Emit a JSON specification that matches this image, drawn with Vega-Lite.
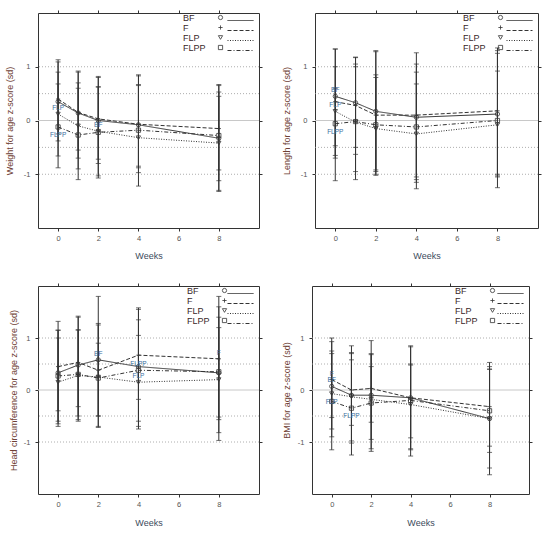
{
  "$schema": "https://vega.github.io/schema/vega-lite/v6.json",
  "description": "Anthropometric z-scores by week and feeding group",
  "padding": {"left": 4, "top": 9, "right": 4, "bottom": 4},
  "datasets": {
    "d": [
      {"p": "W", "w": 0, "g": "BF", "m": 0.35, "lo": -0.38, "hi": 1.09},
      {"p": "W", "w": 0, "g": "F", "m": 0.40, "lo": -0.25, "hi": 1.13},
      {"p": "W", "w": 0, "g": "FLP", "m": 0.12, "lo": -0.66, "hi": 0.90, "note": "FLP"},
      {"p": "W", "w": 0, "g": "FLPP", "m": -0.12, "lo": -0.88, "hi": 0.68, "note": "FLPP"},
      {"p": "W", "w": 1, "g": "BF", "m": 0.14, "lo": -0.70, "hi": 0.92},
      {"p": "W", "w": 1, "g": "F", "m": 0.15, "lo": -0.55, "hi": 0.90},
      {"p": "W", "w": 1, "g": "FLP", "m": -0.10, "lo": -1.10, "hi": 0.70},
      {"p": "W", "w": 1, "g": "FLPP", "m": -0.27, "lo": -0.90, "hi": 0.60},
      {"p": "W", "w": 2, "g": "BF", "m": 0.00, "lo": -1.07, "hi": 0.82},
      {"p": "W", "w": 2, "g": "F", "m": 0.03, "lo": -0.80, "hi": 0.80},
      {"p": "W", "w": 2, "g": "FLP", "m": -0.20, "lo": -1.03, "hi": 0.63, "note": "BF"},
      {"p": "W", "w": 2, "g": "FLPP", "m": -0.22, "lo": -0.72, "hi": 0.62},
      {"p": "W", "w": 4, "g": "BF", "m": -0.08, "lo": -1.22, "hi": 0.85},
      {"p": "W", "w": 4, "g": "F", "m": -0.07, "lo": -0.97, "hi": 0.83},
      {"p": "W", "w": 4, "g": "FLP", "m": -0.32, "lo": -0.88, "hi": 0.67},
      {"p": "W", "w": 4, "g": "FLPP", "m": -0.18, "lo": -0.85, "hi": 0.65},
      {"p": "W", "w": 8, "g": "BF", "m": -0.33, "lo": -1.32, "hi": 0.67},
      {"p": "W", "w": 8, "g": "F", "m": -0.15, "lo": -1.12, "hi": 0.53},
      {"p": "W", "w": 8, "g": "FLP", "m": -0.42, "lo": -1.30, "hi": 0.45},
      {"p": "W", "w": 8, "g": "FLPP", "m": -0.28, "lo": -0.92, "hi": 0.65},

      {"p": "L", "w": 0, "g": "BF", "m": 0.45, "lo": -0.47, "hi": 1.33, "note": "BF"},
      {"p": "L", "w": 0, "g": "F", "m": 0.35, "lo": -0.65, "hi": 1.33},
      {"p": "L", "w": 0, "g": "FLP", "m": 0.17, "lo": -1.12, "hi": 1.00, "note": "FLP"},
      {"p": "L", "w": 0, "g": "FLPP", "m": -0.06, "lo": -0.70, "hi": 0.60, "note": "FLPP"},
      {"p": "L", "w": 1, "g": "BF", "m": 0.33, "lo": -0.50, "hi": 1.18},
      {"p": "L", "w": 1, "g": "F", "m": 0.28, "lo": -0.63, "hi": 1.17},
      {"p": "L", "w": 1, "g": "FLP", "m": -0.03, "lo": -1.10, "hi": 1.05},
      {"p": "L", "w": 1, "g": "FLPP", "m": -0.02, "lo": -0.95, "hi": 1.00},
      {"p": "L", "w": 2, "g": "BF", "m": 0.17, "lo": -0.95, "hi": 1.30},
      {"p": "L", "w": 2, "g": "F", "m": 0.10, "lo": -0.92, "hi": 1.28},
      {"p": "L", "w": 2, "g": "FLP", "m": -0.15, "lo": -1.02, "hi": 0.85},
      {"p": "L", "w": 2, "g": "FLPP", "m": -0.08, "lo": -1.00, "hi": 0.80},
      {"p": "L", "w": 4, "g": "BF", "m": 0.06, "lo": -1.05, "hi": 1.26},
      {"p": "L", "w": 4, "g": "F", "m": 0.10, "lo": -1.10, "hi": 1.05},
      {"p": "L", "w": 4, "g": "FLP", "m": -0.25, "lo": -1.27, "hi": 0.68},
      {"p": "L", "w": 4, "g": "FLPP", "m": -0.12, "lo": -1.15, "hi": 0.90},
      {"p": "L", "w": 8, "g": "BF", "m": 0.12, "lo": -1.03, "hi": 1.35},
      {"p": "L", "w": 8, "g": "F", "m": 0.18, "lo": -1.00, "hi": 1.30},
      {"p": "L", "w": 8, "g": "FLP", "m": -0.08, "lo": -1.25, "hi": 0.92},
      {"p": "L", "w": 8, "g": "FLPP", "m": 0.00, "lo": -1.05, "hi": 1.25},

      {"p": "H", "w": 0, "g": "BF", "m": 0.33, "lo": -0.65, "hi": 1.32},
      {"p": "H", "w": 0, "g": "F", "m": 0.45, "lo": -0.40, "hi": 1.15},
      {"p": "H", "w": 0, "g": "FLP", "m": 0.15, "lo": -0.70, "hi": 1.00},
      {"p": "H", "w": 0, "g": "FLPP", "m": 0.27, "lo": -0.60, "hi": 1.15},
      {"p": "H", "w": 1, "g": "BF", "m": 0.48, "lo": -0.57, "hi": 1.42},
      {"p": "H", "w": 1, "g": "F", "m": 0.53, "lo": -0.32, "hi": 1.40},
      {"p": "H", "w": 1, "g": "FLP", "m": 0.28, "lo": -0.60, "hi": 1.16},
      {"p": "H", "w": 1, "g": "FLPP", "m": 0.30, "lo": -0.50, "hi": 1.15},
      {"p": "H", "w": 2, "g": "BF", "m": 0.58, "lo": -0.72, "hi": 1.80, "note": "BF"},
      {"p": "H", "w": 2, "g": "F", "m": 0.38, "lo": -0.50, "hi": 1.28},
      {"p": "H", "w": 2, "g": "FLP", "m": 0.25, "lo": -0.70, "hi": 1.25},
      {"p": "H", "w": 2, "g": "FLPP", "m": 0.23, "lo": -0.50, "hi": 0.90},
      {"p": "H", "w": 4, "g": "BF", "m": 0.45, "lo": -0.70, "hi": 1.58},
      {"p": "H", "w": 4, "g": "F", "m": 0.67, "lo": -0.18, "hi": 1.55},
      {"p": "H", "w": 4, "g": "FLP", "m": 0.15, "lo": -0.75, "hi": 1.05, "note": "FLP"},
      {"p": "H", "w": 4, "g": "FLPP", "m": 0.38, "lo": -0.60, "hi": 1.35, "note": "FLPP"},
      {"p": "H", "w": 8, "g": "BF", "m": 0.33, "lo": -0.57, "hi": 1.80},
      {"p": "H", "w": 8, "g": "F", "m": 0.60, "lo": -0.52, "hi": 1.60, "note": "F"},
      {"p": "H", "w": 8, "g": "FLP", "m": 0.20, "lo": -0.97, "hi": 1.40},
      {"p": "H", "w": 8, "g": "FLPP", "m": 0.35, "lo": -0.82, "hi": 1.20},

      {"p": "B", "w": 0, "g": "BF", "m": 0.07, "lo": -0.90, "hi": 1.00, "note": "BF"},
      {"p": "B", "w": 0, "g": "F", "m": 0.20, "lo": -0.53, "hi": 0.93, "note": "F"},
      {"p": "B", "w": 0, "g": "FLP", "m": -0.07, "lo": -1.15, "hi": 0.75, "note": "FLP"},
      {"p": "B", "w": 0, "g": "FLPP", "m": -0.22, "lo": -0.75, "hi": 0.70},
      {"p": "B", "w": 1, "g": "BF", "m": -0.10, "lo": -1.02, "hi": 0.85},
      {"p": "B", "w": 1, "g": "F", "m": 0.00, "lo": -0.68, "hi": 0.72},
      {"p": "B", "w": 1, "g": "FLP", "m": -0.13, "lo": -1.25, "hi": 0.70},
      {"p": "B", "w": 1, "g": "FLPP", "m": -0.35, "lo": -0.98, "hi": 0.58, "note": "FLPP"},
      {"p": "B", "w": 2, "g": "BF", "m": -0.10, "lo": -1.13, "hi": 0.95},
      {"p": "B", "w": 2, "g": "F", "m": 0.03, "lo": -0.62, "hi": 0.70},
      {"p": "B", "w": 2, "g": "FLP", "m": -0.18, "lo": -1.18, "hi": 0.68},
      {"p": "B", "w": 2, "g": "FLPP", "m": -0.25, "lo": -0.95, "hi": 0.45},
      {"p": "B", "w": 4, "g": "BF", "m": -0.15, "lo": -1.15, "hi": 0.85},
      {"p": "B", "w": 4, "g": "F", "m": -0.15, "lo": -1.13, "hi": 0.83},
      {"p": "B", "w": 4, "g": "FLP", "m": -0.28, "lo": -1.27, "hi": 0.48},
      {"p": "B", "w": 4, "g": "FLPP", "m": -0.20, "lo": -0.92, "hi": 0.50},
      {"p": "B", "w": 8, "g": "BF", "m": -0.55, "lo": -1.63, "hi": 0.53},
      {"p": "B", "w": 8, "g": "F", "m": -0.32, "lo": -1.08, "hi": 0.45},
      {"p": "B", "w": 8, "g": "FLP", "m": -0.55, "lo": -1.50, "hi": 0.40},
      {"p": "B", "w": 8, "g": "FLPP", "m": -0.40, "lo": -1.20, "hi": 0.40}
    ],
    "grid": [{"gy": -1}, {"gy": -0.5}, {"gy": 0.5}, {"gy": 1}],
    "zero": [{"gy": 0}]
  },
  "columns": 2,
  "align": "none",
  "spacing": {"column": 18, "row": 21},
  "resolve": {"legend": {"shape": "independent", "strokeDash": "independent"}},
  "concat": [
    {
      "width": 221, "height": 215,
      "data": {"name": "d"},
      "transform": [{"filter": "datum.p === 'W'"}],
      "resolve": {"axis": {"x": "independent", "y": "independent"}},
      "layer": [
        {"data": {"name": "grid"}, "mark": {"type": "rule", "color": "#999", "strokeDash": [1, 2], "strokeWidth": 0.8},
         "encoding": {"y": {"field": "gy", "type": "quantitative", "scale": {"domain": [-2, 2], "nice": false}, "axis": null}}},
        {"data": {"name": "zero"}, "mark": {"type": "rule", "color": "#c8c8c8", "strokeWidth": 1},
         "encoding": {"y": {"field": "gy", "type": "quantitative", "scale": {"domain": [-2, 2], "nice": false}, "axis": null}}},
        {"mark": {"type": "rule", "color": "#333", "strokeWidth": 1},
         "encoding": {
           "x": {"field": "w", "type": "quantitative", "scale": {"domain": [-1, 10], "nice": false, "zero": false},
                 "axis": {"orient": "bottom", "values": [0, 2, 4, 6, 8], "title": "Weeks", "labelPadding": 3, "titlePadding": 10}},
           "y": {"field": "lo", "type": "quantitative", "scale": {"domain": [-2, 2], "nice": false},
                 "axis": {"orient": "left", "values": [-1, 0, 1], "labelExpr": "'' + datum.value", "title": "Weight for age z-score (sd)", "labelPadding": 5, "titlePadding": 9}},
           "y2": {"field": "hi"}}},
        {"mark": {"type": "tick", "orient": "horizontal", "color": "#333", "size": 5, "thickness": 1},
         "encoding": {
           "x": {"field": "w", "type": "quantitative", "scale": {"domain": [-1, 10], "nice": false, "zero": false},
                 "axis": {"orient": "top", "values": [0, 2, 4, 6, 8], "labels": false, "title": null}},
           "y": {"field": "lo", "type": "quantitative", "scale": {"domain": [-2, 2], "nice": false},
                 "axis": {"orient": "right", "values": [-1, 0, 1], "labels": false, "title": null}}}},
        {"mark": {"type": "tick", "orient": "horizontal", "color": "#333", "size": 5, "thickness": 1},
         "encoding": {
           "x": {"field": "w", "type": "quantitative", "scale": {"domain": [-1, 10], "nice": false, "zero": false}, "axis": null},
           "y": {"field": "hi", "type": "quantitative", "scale": {"domain": [-2, 2], "nice": false}, "axis": null}}},
        {"mark": {"type": "line", "color": "#333", "strokeWidth": 1},
         "encoding": {
           "x": {"field": "w", "type": "quantitative", "scale": {"domain": [-1, 10], "nice": false, "zero": false}, "axis": null},
           "y": {"field": "m", "type": "quantitative", "scale": {"domain": [-2, 2], "nice": false}, "axis": null},
           "strokeDash": {"field": "g", "type": "nominal",
             "scale": {"domain": ["BF", "F", "FLP", "FLPP"], "range": [[1, 0], [4, 2], [1, 1.5], [4, 2, 1, 2]]},
             "legend": {"orient": "top-right", "offset": 3, "padding": 0, "title": null, "labelExpr": "' '", "labelFontSize": 9, "labelOffset": 0,
                        "symbolType": "M-6.5,0L6.5,0", "symbolSize": 16, "symbolStrokeColor": "#333", "symbolStrokeWidth": 1, "rowPadding": -1}}}},
        {"mark": {"type": "point", "color": "#333", "filled": false, "size": 18, "strokeWidth": 0.8, "opacity": 1},
         "encoding": {
           "x": {"field": "w", "type": "quantitative", "scale": {"domain": [-1, 10], "nice": false, "zero": false}, "axis": null},
           "y": {"field": "m", "type": "quantitative", "scale": {"domain": [-2, 2], "nice": false}, "axis": null},
           "shape": {"field": "g", "type": "nominal",
             "scale": {"domain": ["BF", "F", "FLP", "FLPP"], "range": ["circle", "M-1,0L1,0M0,-1L0,1", "triangle-down", "square"]},
             "legend": {"orient": "none", "legendX": 178, "legendY": 0, "padding": 0, "title": null, "labelAlign": "left", "labelOffset": -42, "labelFontSize": 9, "labelColor": "#3a2828",
                        "symbolSize": 18, "symbolStrokeColor": "#333", "symbolStrokeWidth": 0.8, "rowPadding": -1}}}},
        {"transform": [{"filter": "datum.note && datum.g !== 'FLPP'"}],
         "mark": {"type": "text", "fontSize": 6.5, "color": "#3a6e9e", "dy": -6},
         "encoding": {
           "x": {"field": "w", "type": "quantitative", "scale": {"domain": [-1, 10], "nice": false, "zero": false}, "axis": null},
           "y": {"field": "m", "type": "quantitative", "scale": {"domain": [-2, 2], "nice": false}, "axis": null},
           "text": {"field": "note"}}},
        {"transform": [{"filter": "datum.note && datum.g === 'FLPP'"}],
         "mark": {"type": "text", "fontSize": 6.5, "color": "#3a6e9e", "dy": 8},
         "encoding": {
           "x": {"field": "w", "type": "quantitative", "scale": {"domain": [-1, 10], "nice": false, "zero": false}, "axis": null},
           "y": {"field": "m", "type": "quantitative", "scale": {"domain": [-2, 2], "nice": false}, "axis": null},
           "text": {"field": "note"}}}
      ]
    },
    {
      "width": 223, "height": 215,
      "data": {"name": "d"},
      "transform": [{"filter": "datum.p === 'L'"}],
      "resolve": {"axis": {"x": "independent", "y": "independent"}},
      "layer": [
        {"data": {"name": "grid"}, "mark": {"type": "rule", "color": "#999", "strokeDash": [1, 2], "strokeWidth": 0.8},
         "encoding": {"y": {"field": "gy", "type": "quantitative", "scale": {"domain": [-2, 2], "nice": false}, "axis": null}}},
        {"data": {"name": "zero"}, "mark": {"type": "rule", "color": "#c8c8c8", "strokeWidth": 1},
         "encoding": {"y": {"field": "gy", "type": "quantitative", "scale": {"domain": [-2, 2], "nice": false}, "axis": null}}},
        {"mark": {"type": "rule", "color": "#333", "strokeWidth": 1},
         "encoding": {
           "x": {"field": "w", "type": "quantitative", "scale": {"domain": [-1, 10], "nice": false, "zero": false},
                 "axis": {"orient": "bottom", "values": [0, 2, 4, 6, 8], "title": "Weeks", "labelPadding": 3, "titlePadding": 10}},
           "y": {"field": "lo", "type": "quantitative", "scale": {"domain": [-2, 2], "nice": false},
                 "axis": {"orient": "left", "values": [-1, 0, 1], "labelExpr": "'' + datum.value", "title": "Length for age z-score (sd)", "labelPadding": 5, "titlePadding": 9}},
           "y2": {"field": "hi"}}},
        {"mark": {"type": "tick", "orient": "horizontal", "color": "#333", "size": 5, "thickness": 1},
         "encoding": {
           "x": {"field": "w", "type": "quantitative", "scale": {"domain": [-1, 10], "nice": false, "zero": false},
                 "axis": {"orient": "top", "values": [0, 2, 4, 6, 8], "labels": false, "title": null}},
           "y": {"field": "lo", "type": "quantitative", "scale": {"domain": [-2, 2], "nice": false},
                 "axis": {"orient": "right", "values": [-1, 0, 1], "labels": false, "title": null}}}},
        {"mark": {"type": "tick", "orient": "horizontal", "color": "#333", "size": 5, "thickness": 1},
         "encoding": {
           "x": {"field": "w", "type": "quantitative", "scale": {"domain": [-1, 10], "nice": false, "zero": false}, "axis": null},
           "y": {"field": "hi", "type": "quantitative", "scale": {"domain": [-2, 2], "nice": false}, "axis": null}}},
        {"mark": {"type": "line", "color": "#333", "strokeWidth": 1},
         "encoding": {
           "x": {"field": "w", "type": "quantitative", "scale": {"domain": [-1, 10], "nice": false, "zero": false}, "axis": null},
           "y": {"field": "m", "type": "quantitative", "scale": {"domain": [-2, 2], "nice": false}, "axis": null},
           "strokeDash": {"field": "g", "type": "nominal",
             "scale": {"domain": ["BF", "F", "FLP", "FLPP"], "range": [[1, 0], [4, 2], [1, 1.5], [4, 2, 1, 2]]},
             "legend": {"orient": "top-right", "offset": 3, "padding": 0, "title": null, "labelExpr": "' '", "labelFontSize": 9, "labelOffset": 0,
                        "symbolType": "M-6.5,0L6.5,0", "symbolSize": 16, "symbolStrokeColor": "#333", "symbolStrokeWidth": 1, "rowPadding": -1}}}},
        {"mark": {"type": "point", "color": "#333", "filled": false, "size": 18, "strokeWidth": 0.8, "opacity": 1},
         "encoding": {
           "x": {"field": "w", "type": "quantitative", "scale": {"domain": [-1, 10], "nice": false, "zero": false}, "axis": null},
           "y": {"field": "m", "type": "quantitative", "scale": {"domain": [-2, 2], "nice": false}, "axis": null},
           "shape": {"field": "g", "type": "nominal",
             "scale": {"domain": ["BF", "F", "FLP", "FLPP"], "range": ["circle", "M-1,0L1,0M0,-1L0,1", "triangle-down", "square"]},
             "legend": {"orient": "none", "legendX": 181, "legendY": 0, "padding": 0, "title": null, "labelAlign": "left", "labelOffset": -42, "labelFontSize": 9, "labelColor": "#3a2828",
                        "symbolSize": 18, "symbolStrokeColor": "#333", "symbolStrokeWidth": 0.8, "rowPadding": -1}}}},
        {"transform": [{"filter": "datum.note && datum.g !== 'FLPP'"}],
         "mark": {"type": "text", "fontSize": 6.5, "color": "#3a6e9e", "dy": -6},
         "encoding": {
           "x": {"field": "w", "type": "quantitative", "scale": {"domain": [-1, 10], "nice": false, "zero": false}, "axis": null},
           "y": {"field": "m", "type": "quantitative", "scale": {"domain": [-2, 2], "nice": false}, "axis": null},
           "text": {"field": "note"}}},
        {"transform": [{"filter": "datum.note && datum.g === 'FLPP'"}],
         "mark": {"type": "text", "fontSize": 6.5, "color": "#3a6e9e", "dy": 8},
         "encoding": {
           "x": {"field": "w", "type": "quantitative", "scale": {"domain": [-1, 10], "nice": false, "zero": false}, "axis": null},
           "y": {"field": "m", "type": "quantitative", "scale": {"domain": [-2, 2], "nice": false}, "axis": null},
           "text": {"field": "note"}}}
      ]
    },
    {
      "width": 221, "height": 208,
      "data": {"name": "d"},
      "transform": [{"filter": "datum.p === 'H'"}],
      "resolve": {"axis": {"x": "independent", "y": "independent"}},
      "layer": [
        {"data": {"name": "grid"}, "mark": {"type": "rule", "color": "#999", "strokeDash": [1, 2], "strokeWidth": 0.8},
         "encoding": {"y": {"field": "gy", "type": "quantitative", "scale": {"domain": [-2, 2], "nice": false}, "axis": null}}},
        {"data": {"name": "zero"}, "mark": {"type": "rule", "color": "#c8c8c8", "strokeWidth": 1},
         "encoding": {"y": {"field": "gy", "type": "quantitative", "scale": {"domain": [-2, 2], "nice": false}, "axis": null}}},
        {"mark": {"type": "rule", "color": "#333", "strokeWidth": 1},
         "encoding": {
           "x": {"field": "w", "type": "quantitative", "scale": {"domain": [-1, 10], "nice": false, "zero": false},
                 "axis": {"orient": "bottom", "values": [0, 2, 4, 6, 8], "title": "Weeks", "labelPadding": 3, "titlePadding": 11}},
           "y": {"field": "lo", "type": "quantitative", "scale": {"domain": [-2, 2], "nice": false},
                 "axis": {"orient": "left", "values": [-1, 0, 1], "labelExpr": "'' + datum.value", "title": "Head circumference for age z-score (sd)", "labelPadding": 5, "titlePadding": 5}},
           "y2": {"field": "hi"}}},
        {"mark": {"type": "tick", "orient": "horizontal", "color": "#333", "size": 5, "thickness": 1},
         "encoding": {
           "x": {"field": "w", "type": "quantitative", "scale": {"domain": [-1, 10], "nice": false, "zero": false},
                 "axis": {"orient": "top", "values": [0, 2, 4, 6, 8], "labels": false, "title": null}},
           "y": {"field": "lo", "type": "quantitative", "scale": {"domain": [-2, 2], "nice": false},
                 "axis": {"orient": "right", "values": [-1, 0, 1], "labels": false, "title": null}}}},
        {"mark": {"type": "tick", "orient": "horizontal", "color": "#333", "size": 5, "thickness": 1},
         "encoding": {
           "x": {"field": "w", "type": "quantitative", "scale": {"domain": [-1, 10], "nice": false, "zero": false}, "axis": null},
           "y": {"field": "hi", "type": "quantitative", "scale": {"domain": [-2, 2], "nice": false}, "axis": null}}},
        {"mark": {"type": "line", "color": "#333", "strokeWidth": 1},
         "encoding": {
           "x": {"field": "w", "type": "quantitative", "scale": {"domain": [-1, 10], "nice": false, "zero": false}, "axis": null},
           "y": {"field": "m", "type": "quantitative", "scale": {"domain": [-2, 2], "nice": false}, "axis": null},
           "strokeDash": {"field": "g", "type": "nominal",
             "scale": {"domain": ["BF", "F", "FLP", "FLPP"], "range": [[1, 0], [4, 2], [1, 1.5], [4, 2, 1, 2]]},
             "legend": {"orient": "top-right", "offset": 3, "padding": 0, "title": null, "labelExpr": "' '", "labelFontSize": 9, "labelOffset": 0,
                        "symbolType": "M-6.5,0L6.5,0", "symbolSize": 16, "symbolStrokeColor": "#333", "symbolStrokeWidth": 1, "rowPadding": -1}}}},
        {"mark": {"type": "point", "color": "#333", "filled": false, "size": 18, "strokeWidth": 0.8, "opacity": 1},
         "encoding": {
           "x": {"field": "w", "type": "quantitative", "scale": {"domain": [-1, 10], "nice": false, "zero": false}, "axis": null},
           "y": {"field": "m", "type": "quantitative", "scale": {"domain": [-2, 2], "nice": false}, "axis": null},
           "shape": {"field": "g", "type": "nominal",
             "scale": {"domain": ["BF", "F", "FLP", "FLPP"], "range": ["circle", "M-1,0L1,0M0,-1L0,1", "triangle-down", "square"]},
             "legend": {"orient": "none", "legendX": 182, "legendY": 0, "padding": 0, "title": null, "labelAlign": "left", "labelOffset": -42, "labelFontSize": 9, "labelColor": "#3a2828",
                        "symbolSize": 18, "symbolStrokeColor": "#333", "symbolStrokeWidth": 0.8, "rowPadding": -1}}}},
        {"transform": [{"filter": "datum.note"}],
         "mark": {"type": "text", "fontSize": 6.5, "color": "#3a6e9e", "dy": -6},
         "encoding": {
           "x": {"field": "w", "type": "quantitative", "scale": {"domain": [-1, 10], "nice": false, "zero": false}, "axis": null},
           "y": {"field": "m", "type": "quantitative", "scale": {"domain": [-2, 2], "nice": false}, "axis": null},
           "text": {"field": "note"}}}
      ]
    },
    {
      "width": 217, "height": 208,
      "data": {"name": "d"},
      "transform": [{"filter": "datum.p === 'B'"}],
      "resolve": {"axis": {"x": "independent", "y": "independent"}},
      "layer": [
        {"data": {"name": "grid"}, "mark": {"type": "rule", "color": "#999", "strokeDash": [1, 2], "strokeWidth": 0.8},
         "encoding": {"y": {"field": "gy", "type": "quantitative", "scale": {"domain": [-2, 2], "nice": false}, "axis": null}}},
        {"data": {"name": "zero"}, "mark": {"type": "rule", "color": "#c8c8c8", "strokeWidth": 1},
         "encoding": {"y": {"field": "gy", "type": "quantitative", "scale": {"domain": [-2, 2], "nice": false}, "axis": null}}},
        {"mark": {"type": "rule", "color": "#333", "strokeWidth": 1},
         "encoding": {
           "x": {"field": "w", "type": "quantitative", "scale": {"domain": [-1, 10], "nice": false, "zero": false},
                 "axis": {"orient": "bottom", "values": [0, 2, 4, 6, 8], "title": "Weeks", "labelPadding": 3, "titlePadding": 11}},
           "y": {"field": "lo", "type": "quantitative", "scale": {"domain": [-2, 2], "nice": false},
                 "axis": {"orient": "left", "values": [-1, 0, 1], "labelExpr": "'' + datum.value", "title": "BMI for age z-score (sd)", "labelPadding": 5, "titlePadding": 6}},
           "y2": {"field": "hi"}}},
        {"mark": {"type": "tick", "orient": "horizontal", "color": "#333", "size": 5, "thickness": 1},
         "encoding": {
           "x": {"field": "w", "type": "quantitative", "scale": {"domain": [-1, 10], "nice": false, "zero": false},
                 "axis": {"orient": "top", "values": [0, 2, 4, 6, 8], "labels": false, "title": null}},
           "y": {"field": "lo", "type": "quantitative", "scale": {"domain": [-2, 2], "nice": false},
                 "axis": {"orient": "right", "values": [-1, 0, 1], "labels": false, "title": null}}}},
        {"mark": {"type": "tick", "orient": "horizontal", "color": "#333", "size": 5, "thickness": 1},
         "encoding": {
           "x": {"field": "w", "type": "quantitative", "scale": {"domain": [-1, 10], "nice": false, "zero": false}, "axis": null},
           "y": {"field": "hi", "type": "quantitative", "scale": {"domain": [-2, 2], "nice": false}, "axis": null}}},
        {"mark": {"type": "line", "color": "#333", "strokeWidth": 1},
         "encoding": {
           "x": {"field": "w", "type": "quantitative", "scale": {"domain": [-1, 10], "nice": false, "zero": false}, "axis": null},
           "y": {"field": "m", "type": "quantitative", "scale": {"domain": [-2, 2], "nice": false}, "axis": null},
           "strokeDash": {"field": "g", "type": "nominal",
             "scale": {"domain": ["BF", "F", "FLP", "FLPP"], "range": [[1, 0], [4, 2], [1, 1.5], [4, 2, 1, 2]]},
             "legend": {"orient": "top-right", "offset": 3, "padding": 0, "title": null, "labelExpr": "' '", "labelFontSize": 9, "labelOffset": 0,
                        "symbolType": "M-6.5,0L6.5,0", "symbolSize": 16, "symbolStrokeColor": "#333", "symbolStrokeWidth": 1, "rowPadding": -1}}}},
        {"mark": {"type": "point", "color": "#333", "filled": false, "size": 18, "strokeWidth": 0.8, "opacity": 1},
         "encoding": {
           "x": {"field": "w", "type": "quantitative", "scale": {"domain": [-1, 10], "nice": false, "zero": false}, "axis": null},
           "y": {"field": "m", "type": "quantitative", "scale": {"domain": [-2, 2], "nice": false}, "axis": null},
           "shape": {"field": "g", "type": "nominal",
             "scale": {"domain": ["BF", "F", "FLP", "FLPP"], "range": ["circle", "M-1,0L1,0M0,-1L0,1", "triangle-down", "square"]},
             "legend": {"orient": "none", "legendX": 176, "legendY": 0, "padding": 0, "title": null, "labelAlign": "left", "labelOffset": -42, "labelFontSize": 9, "labelColor": "#3a2828",
                        "symbolSize": 18, "symbolStrokeColor": "#333", "symbolStrokeWidth": 0.8, "rowPadding": -1}}}},
        {"transform": [{"filter": "datum.note && datum.g !== 'FLP' && datum.g !== 'FLPP'"}],
         "mark": {"type": "text", "fontSize": 6.5, "color": "#3a6e9e", "dy": -6},
         "encoding": {
           "x": {"field": "w", "type": "quantitative", "scale": {"domain": [-1, 10], "nice": false, "zero": false}, "axis": null},
           "y": {"field": "m", "type": "quantitative", "scale": {"domain": [-2, 2], "nice": false}, "axis": null},
           "text": {"field": "note"}}},
        {"transform": [{"filter": "datum.note && (datum.g === 'FLP' || datum.g === 'FLPP')"}],
         "mark": {"type": "text", "fontSize": 6.5, "color": "#3a6e9e", "dy": 8},
         "encoding": {
           "x": {"field": "w", "type": "quantitative", "scale": {"domain": [-1, 10], "nice": false, "zero": false}, "axis": null},
           "y": {"field": "m", "type": "quantitative", "scale": {"domain": [-2, 2], "nice": false}, "axis": null},
           "text": {"field": "note"}}}
      ]
    }
  ],
  "config": {
    "font": "Liberation Sans",
    "view": {"stroke": "#333", "strokeWidth": 1},
    "axis": {"domain": false, "grid": false, "tickColor": "#333", "tickSize": 3, "labelFont": "Liberation Sans", "labelFontSize": 7.5, "labelColor": "#555",
             "titleFont": "Liberation Sans", "titleFontSize": 9, "titleFontWeight": "normal"},
    "axisX": {"titleColor": "#3d4b5c"},
    "axisY": {"titleColor": "#6e4034"},
    "legend": {"labelFont": "Liberation Sans"}
  }
}
